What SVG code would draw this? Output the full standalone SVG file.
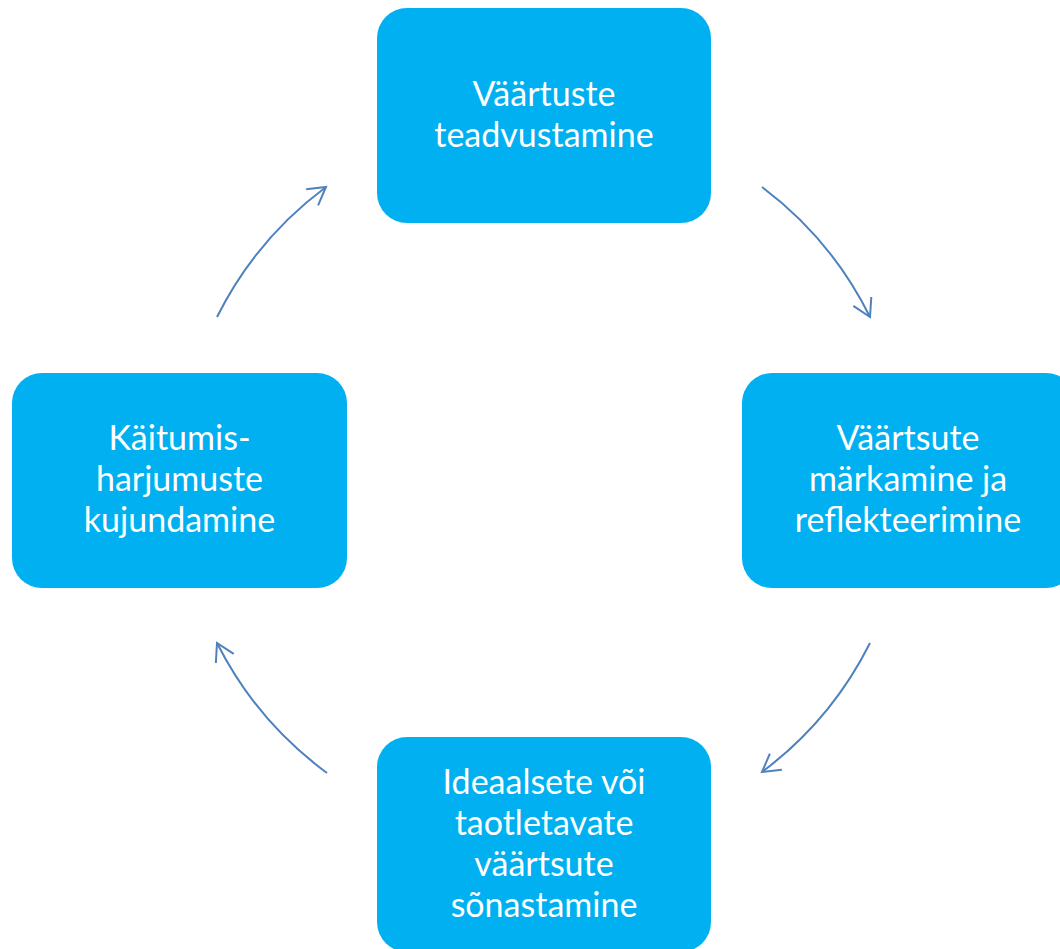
<svg xmlns="http://www.w3.org/2000/svg" width="1060" height="949" viewBox="0 0 1060 949">
  <style>
    .box { fill: #00B0F0; }
    .lbl { fill: #FFFFFF; font-family: Lato, "Open Sans", "Liberation Sans", sans-serif; font-size: 34px; text-anchor: middle; }
    .arc { fill: none; stroke: #4F81BD; stroke-width: 2; }
  </style>
  <defs>
    <marker id="head" markerUnits="userSpaceOnUse" viewBox="-20 -12 22 24" markerWidth="22" markerHeight="24" refX="0" refY="0" orient="auto" overflow="visible">
      <path d="M -17.3 -10 L 0 0 L -17.3 10" fill="none" stroke="#4F81BD" stroke-width="2"/>
    </marker>
  </defs>
  <rect width="1060" height="949" fill="#FFFFFF"/>
  <g id="connectors">
    <path class="arc" d="M 762 187 A 365 365 0 0 1 870 317" marker-end="url(#head)"/>
    <path class="arc" d="M 870 643 A 365 365 0 0 1 762 772" marker-end="url(#head)"/>
    <path class="arc" d="M 327 773 A 365 365 0 0 1 217 643" marker-end="url(#head)"/>
    <path class="arc" d="M 217 317 A 365 365 0 0 1 326 187" marker-end="url(#head)"/>
  </g>
  <g id="node-top">
    <rect class="box" x="377" y="8" width="334" height="215" rx="30" ry="30"/>
    <text class="lbl" x="544" y="105.5">Väärtuste</text>
    <text class="lbl" x="544" y="146.5">teadvustamine</text>
  </g>
  <g id="node-right">
    <rect class="box" x="742" y="373" width="334" height="215" rx="30" ry="30"/>
    <text class="lbl" x="908" y="450">Väärtsute</text>
    <text class="lbl" x="908" y="491">märkamine ja</text>
    <text class="lbl" x="908" y="532">reflekteerimine</text>
  </g>
  <g id="node-bottom">
    <rect class="box" x="377" y="737" width="334" height="215" rx="30" ry="30"/>
    <text class="lbl" x="544" y="793.5">Ideaalsete või</text>
    <text class="lbl" x="544" y="834.5">taotletavate</text>
    <text class="lbl" x="544" y="875.5">väärtsute</text>
    <text class="lbl" x="544" y="916.5">sõnastamine</text>
  </g>
  <g id="node-left">
    <rect class="box" x="12" y="373" width="335" height="215" rx="30" ry="30"/>
    <text class="lbl" x="179.5" y="450">Käitumis-</text>
    <text class="lbl" x="179.5" y="491">harjumuste</text>
    <text class="lbl" x="179.5" y="532">kujundamine</text>
  </g>
</svg>
